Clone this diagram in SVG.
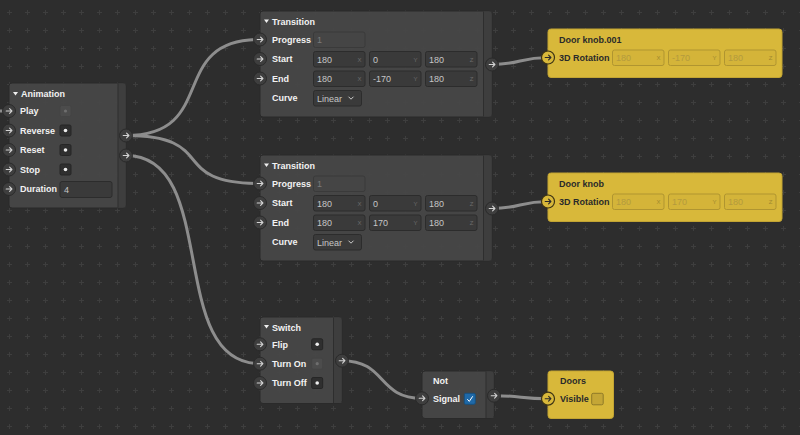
<svg xmlns="http://www.w3.org/2000/svg" xmlns:xlink="http://www.w3.org/1999/xlink" width="800" height="435" viewBox="0 0 800 435">
<defs>
<style>
.node{fill:#474747;fill-opacity:.94;stroke:#2a2a2a;stroke-width:1}
.strip{fill:#3e3e3e;fill-opacity:.94}
.div{stroke:#2e2e2e;stroke-width:1}
.t{font-family:"Liberation Sans",Arial,sans-serif;font-size:9px;font-weight:bold;fill:#f2f2f2}
.v{font-family:"Liberation Sans",Arial,sans-serif;font-size:9px;fill:#c6c6c6}
.dim{fill:#7a7a7a}
.ax{font-family:"Liberation Sans",Arial,sans-serif;font-size:6px;fill:#6c6c6c;text-anchor:middle}
.box{fill:#3a3a3a;stroke:#2c2c2c;stroke-width:1}
.dbox{fill:#454545;stroke:#3a3a3a;stroke-width:1}
.link{fill:none;stroke:#8d8d8d;stroke-width:3;stroke-linecap:round}
.sock{fill:#3e3e3e;stroke:#2a2a2a;stroke-width:1}
.arr{fill:none;stroke:#d4d4d4;stroke-width:1.1;stroke-linecap:round;stroke-linejoin:round}
.yn{fill:#d8b83a;stroke:#c2a433;stroke-width:1}
.yt{font-family:"Liberation Sans",Arial,sans-serif;font-size:9px;font-weight:bold;fill:#2a2a2a}
.ybox{fill:#d4b439;stroke:#b09530;stroke-width:1}
.yv{font-family:"Liberation Sans",Arial,sans-serif;font-size:9px;fill:#b39a3e}
.yax{font-family:"Liberation Sans",Arial,sans-serif;font-size:6px;fill:#a08930;text-anchor:middle}
.tri{fill:#eeeeee}
</style>
<pattern id="grid" width="18" height="18" patternUnits="userSpaceOnUse">
<rect x="7" y="12" width="5" height="1" fill="#3e3e3e"/>
<rect x="9" y="10" width="1" height="5" fill="#3e3e3e"/>
</pattern>
<g id="sk"><circle r="6.5" class="sock"/><path d="M-2.8 0H2.8M0.6-2.4L2.9 0L0.6 2.4" class="arr"/></g>
<g id="ysk"><circle r="6.5" fill="#d8b83a" stroke="#3d3415" stroke-width="1.2"/><path d="M-2.8 0H2.8M0.6-2.4L2.9 0L0.6 2.4" fill="none" stroke="#2a2a2a" stroke-width="1.1" stroke-linecap="round" stroke-linejoin="round"/></g>
<g id="cb"><rect x="-5.5" y="-5.5" width="11" height="11" rx="1.5" fill="#2f2f2f" stroke="#262626"/><circle r="1.8" fill="#eeeeee"/></g>
<g id="cbd"><rect x="-5.5" y="-5.5" width="11" height="11" rx="1.5" fill="#4c4c4c" stroke="#444444"/><circle r="1.6" fill="#6e6e6e"/></g>
</defs>
<rect width="800" height="435" fill="#2d2d2d"/>
<rect width="800" height="435" fill="url(#grid)"/>

<g id="connectors">
<path class="link" d="M-5 111H9"/>
<path class="link" d="M126 135.5C220 135.5 166 39.5 260 39.5"/>
<path class="link" d="M126 135.5C220 135.5 166 183.5 260 183.5"/>
<path class="link" d="M126 155.5C221 155.5 165 363.7 260 363.7"/>
<path class="link" d="M492 64.5C520 64.5 520 57.5 548 57.5"/>
<path class="link" d="M492 208.5C520 208.5 520 201.5 548 201.5"/>
<path class="link" d="M342 360.7C387 360.7 377 398.3 422 398.3"/>
<path class="link" d="M494 395.7C522 395.7 520 398.7 548 398.7"/>
</g>

<g id="animation">
<rect class="node" x="9" y="83" width="117" height="125" rx="3"/>
<rect class="strip" x="118" y="83.5" width="7.5" height="124"/>
<line class="div" x1="118" y1="83.5" x2="118" y2="207.5"/>
<polygon class="tri" points="13,92 18,92 15.5,95.5"/>
<text class="t" x="21" y="97">Animation</text>
<text class="t" x="20" y="114.2">Play</text>
<text class="t" x="20" y="133.7">Reverse</text>
<text class="t" x="20" y="153.2">Reset</text>
<text class="t" x="20" y="172.7">Stop</text>
<text class="t" x="20" y="192.2">Duration</text>
<use xlink:href="#cbd" x="65.5" y="111"/>
<use xlink:href="#cb" x="65.5" y="130.5"/>
<use xlink:href="#cb" x="65.5" y="150"/>
<use xlink:href="#cb" x="65.5" y="169.5"/>
<rect class="box" x="60" y="181.5" width="52" height="16" rx="2"/>
<text class="v" x="64" y="192.5">4</text>
<use xlink:href="#sk" x="9" y="111"/>
<use xlink:href="#sk" x="9" y="130.5"/>
<use xlink:href="#sk" x="9" y="150"/>
<use xlink:href="#sk" x="9" y="169.5"/>
<use xlink:href="#sk" x="9" y="189"/>
<use xlink:href="#sk" x="126" y="135.5"/>
<use xlink:href="#sk" x="126" y="155.5"/>
</g>

<g id="transition1">
<rect class="node" x="260" y="11" width="232" height="106" rx="3"/>
<rect class="strip" x="483.5" y="11.5" width="8" height="105"/>
<line class="div" x1="483.5" y1="11.5" x2="483.5" y2="116.5"/>
<polygon class="tri" points="264,19.5 269,19.5 266.5,23"/>
<text class="t" x="272" y="25">Transition</text>
<text class="t" x="272" y="42.7">Progress</text>
<text class="t" x="272" y="62.2">Start</text>
<text class="t" x="272" y="81.7">End</text>
<text class="t" x="272" y="101.2">Curve</text>
<rect class="dbox" x="313.5" y="32" width="51.5" height="15.5" rx="2"/>
<text class="v dim" x="317" y="42.7">1</text>
<rect class="box" x="313.5" y="51.5" width="51.5" height="15.5" rx="2"/>
<rect class="box" x="369.5" y="51.5" width="51.5" height="15.5" rx="2"/>
<rect class="box" x="425.5" y="51.5" width="51.5" height="15.5" rx="2"/>
<text class="v" x="317" y="62.5">180</text>
<text class="v" x="373" y="62.5">0</text>
<text class="v" x="429" y="62.5">180</text>
<text class="ax" x="359.5" y="61.5">X</text>
<text class="ax" x="415.5" y="61.5">Y</text>
<text class="ax" x="471.5" y="61.5">Z</text>
<rect class="box" x="313.5" y="71" width="51.5" height="15.5" rx="2"/>
<rect class="box" x="369.5" y="71" width="51.5" height="15.5" rx="2"/>
<rect class="box" x="425.5" y="71" width="51.5" height="15.5" rx="2"/>
<text class="v" x="317" y="82">180</text>
<text class="v" x="373" y="82">-170</text>
<text class="v" x="429" y="82">180</text>
<text class="ax" x="359.5" y="81">X</text>
<text class="ax" x="415.5" y="81">Y</text>
<text class="ax" x="471.5" y="81">Z</text>
<rect class="box" x="313.5" y="90.5" width="48" height="15.5" rx="2"/>
<text class="v" x="317" y="101.5">Linear</text>
<path d="M348.5 96.7L351 99.2L353.5 96.7" fill="none" stroke="#cccccc" stroke-width="1"/>
<use xlink:href="#sk" x="260" y="39.5"/>
<use xlink:href="#sk" x="260" y="59"/>
<use xlink:href="#sk" x="260" y="78.5"/>
<use xlink:href="#sk" x="492" y="64.5"/>
</g>

<g id="transition2" transform="translate(0,144)">
<rect class="node" x="260" y="11" width="232" height="106" rx="3"/>
<rect class="strip" x="483.5" y="11.5" width="8" height="105"/>
<line class="div" x1="483.5" y1="11.5" x2="483.5" y2="116.5"/>
<polygon class="tri" points="264,19.5 269,19.5 266.5,23"/>
<text class="t" x="272" y="25">Transition</text>
<text class="t" x="272" y="42.7">Progress</text>
<text class="t" x="272" y="62.2">Start</text>
<text class="t" x="272" y="81.7">End</text>
<text class="t" x="272" y="101.2">Curve</text>
<rect class="dbox" x="313.5" y="32" width="51.5" height="15.5" rx="2"/>
<text class="v dim" x="317" y="42.7">1</text>
<rect class="box" x="313.5" y="51.5" width="51.5" height="15.5" rx="2"/>
<rect class="box" x="369.5" y="51.5" width="51.5" height="15.5" rx="2"/>
<rect class="box" x="425.5" y="51.5" width="51.5" height="15.5" rx="2"/>
<text class="v" x="317" y="62.5">180</text>
<text class="v" x="373" y="62.5">0</text>
<text class="v" x="429" y="62.5">180</text>
<text class="ax" x="359.5" y="61.5">X</text>
<text class="ax" x="415.5" y="61.5">Y</text>
<text class="ax" x="471.5" y="61.5">Z</text>
<rect class="box" x="313.5" y="71" width="51.5" height="15.5" rx="2"/>
<rect class="box" x="369.5" y="71" width="51.5" height="15.5" rx="2"/>
<rect class="box" x="425.5" y="71" width="51.5" height="15.5" rx="2"/>
<text class="v" x="317" y="82">180</text>
<text class="v" x="373" y="82">170</text>
<text class="v" x="429" y="82">180</text>
<text class="ax" x="359.5" y="81">X</text>
<text class="ax" x="415.5" y="81">Y</text>
<text class="ax" x="471.5" y="81">Z</text>
<rect class="box" x="313.5" y="90.5" width="48" height="15.5" rx="2"/>
<text class="v" x="317" y="101.5">Linear</text>
<path d="M348.5 96.7L351 99.2L353.5 96.7" fill="none" stroke="#cccccc" stroke-width="1"/>
<use xlink:href="#sk" x="260" y="39.5"/>
<use xlink:href="#sk" x="260" y="59"/>
<use xlink:href="#sk" x="260" y="78.5"/>
<use xlink:href="#sk" x="492" y="64.5"/>
</g>

<g id="doorknob001">
<rect class="yn" x="548" y="29" width="234" height="48.5" rx="3"/>
<text class="yt" x="559" y="43.2">Door knob.001</text>
<text class="yt" x="559" y="60.7">3D Rotation</text>
<rect class="ybox" x="612.5" y="50" width="51.5" height="15.5" rx="2"/>
<rect class="ybox" x="668.5" y="50" width="51.5" height="15.5" rx="2"/>
<rect class="ybox" x="724.5" y="50" width="51.5" height="15.5" rx="2"/>
<text class="yv" x="616" y="61">180</text>
<text class="yv" x="672" y="61">-170</text>
<text class="yv" x="728" y="61">180</text>
<text class="yax" x="658.5" y="60">X</text>
<text class="yax" x="714.5" y="60">Y</text>
<text class="yax" x="770.5" y="60">Z</text>
<use xlink:href="#ysk" x="548" y="57.5"/>
</g>

<g id="doorknob" transform="translate(0,144)">
<rect class="yn" x="548" y="29" width="234" height="48.5" rx="3"/>
<text class="yt" x="559" y="43.2">Door knob</text>
<text class="yt" x="559" y="60.7">3D Rotation</text>
<rect class="ybox" x="612.5" y="50" width="51.5" height="15.5" rx="2"/>
<rect class="ybox" x="668.5" y="50" width="51.5" height="15.5" rx="2"/>
<rect class="ybox" x="724.5" y="50" width="51.5" height="15.5" rx="2"/>
<text class="yv" x="616" y="61">180</text>
<text class="yv" x="672" y="61">170</text>
<text class="yv" x="728" y="61">180</text>
<text class="yax" x="658.5" y="60">X</text>
<text class="yax" x="714.5" y="60">Y</text>
<text class="yax" x="770.5" y="60">Z</text>
<use xlink:href="#ysk" x="548" y="57.5"/>
</g>

<g id="switch">
<rect class="node" x="260" y="317" width="82" height="86.5" rx="3"/>
<rect class="strip" x="333.5" y="317.5" width="8" height="85.5"/>
<line class="div" x1="333.5" y1="317.5" x2="333.5" y2="403"/>
<polygon class="tri" points="264,325 269,325 266.5,328.5"/>
<text class="t" x="272" y="330.5">Switch</text>
<text class="t" x="272" y="347.5">Flip</text>
<text class="t" x="272" y="366.9">Turn On</text>
<text class="t" x="272" y="386.2">Turn Off</text>
<use xlink:href="#cb" x="317.2" y="344.3"/>
<use xlink:href="#cbd" x="317.2" y="363.7"/>
<use xlink:href="#cb" x="317.2" y="383"/>
<use xlink:href="#sk" x="260" y="344.3"/>
<use xlink:href="#sk" x="260" y="363.7"/>
<use xlink:href="#sk" x="260" y="383"/>
<use xlink:href="#sk" x="342" y="360.7"/>
</g>

<g id="not">
<rect class="node" x="422" y="371" width="72" height="47.5" rx="3"/>
<rect class="strip" x="486" y="371.5" width="7.5" height="46.5"/>
<line class="div" x1="486" y1="371.5" x2="486" y2="418"/>
<text class="t" x="433" y="384.2">Not</text>
<text class="t" x="433" y="401.5">Signal</text>
<rect x="464.3" y="393.3" width="11" height="11" rx="1.5" fill="#1f69a8" stroke="#17507f"/>
<path d="M467.3 399.2L469.3 401.4L472.7 396.3" fill="none" stroke="#ffffff" stroke-width="1"/>
<use xlink:href="#sk" x="422" y="398.3"/>
<use xlink:href="#sk" x="494" y="395.7"/>
</g>

<g id="doors">
<rect class="yn" x="548" y="371" width="65.5" height="47.5" rx="3"/>
<text class="yt" x="560" y="384.2">Doors</text>
<text class="yt" x="560" y="401.8">Visible</text>
<rect x="591.7" y="393.3" width="11.5" height="11.5" rx="1.5" fill="#c4a636" stroke="#8f7a28"/>
<use xlink:href="#ysk" x="548" y="398.7"/>
</g>
</svg>
